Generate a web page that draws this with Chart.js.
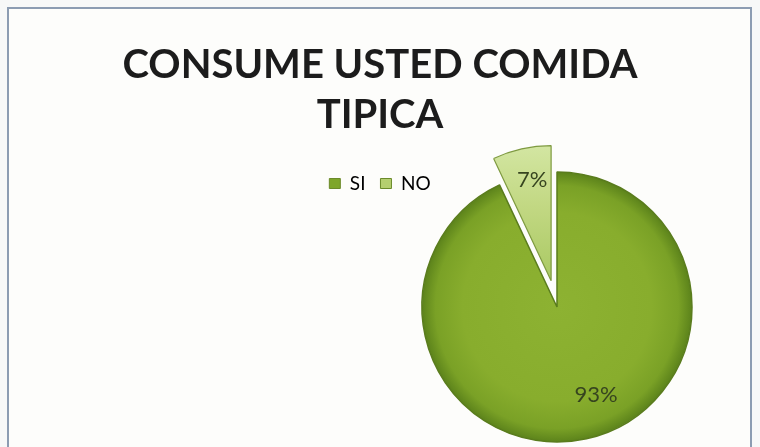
<!DOCTYPE html>
<html>
<head>
<meta charset="utf-8">
<script src="https://cdn.jsdelivr.net/npm/chart.js@4.4.1/dist/chart.umd.min.js"></script>
<style>
  html, body { margin: 0; padding: 0; background: #f7f8f8; }
  #frame { position: absolute; left: 7px; top: 7px; width: 741px; height: 460px;
           border: 2px solid #8c9cb2; background: #fdfdfb; }
  #wrap { position: absolute; left: 0; top: 0; width: 760px; height: 447px; }
</style>
</head>
<body>
<div id="frame"></div>
<div id="wrap"><canvas id="c" width="760" height="447"></canvas></div>
<script>
// ---- data ----
const titleLines = ['CONSUME USTED COMIDA', 'TIPICA'];
const categories = ['SI', 'NO'];
const values = [93, 7];
const valueLabels = ['93%', '7%'];

// ---- style ----
const PIE_CX = 557, PIE_CY = 307, PIE_R = 135;
const explode = [0, 27];
const legendColors = ['#7ea62a', '#b5cf70'];
const labelRadius = [0.71, 0.76];
const labelAngleShift = [-11.5, 2];   // degrees, fine placement of value labels

function sliceFill(c) {
  const chart = c.chart, a = chart.chartArea;
  const i = c.dataIndex;
  if (!a) return legendColors[i];
  const cx = (a.left + a.right) / 2, cy = (a.top + a.bottom) / 2;
  const g2 = chart.ctx;
  if (i === 0) {
    const g = g2.createRadialGradient(cx, cy, 0, cx, cy, PIE_R);
    g.addColorStop(0, '#8db232');
    g.addColorStop(0.7, '#88ad2d');
    g.addColorStop(0.9, '#7aa126');
    g.addColorStop(1, '#5c831b');
    return g;
  }
  const g = g2.createLinearGradient(0, cy - PIE_R - explode[1], 0, cy - explode[1]);
  g.addColorStop(0, '#d3e6a2');
  g.addColorStop(0.45, '#c2d883');
  g.addColorStop(1, '#aac963');
  return g;
}

const piePlacement = {
  id: 'piePlacement',
  afterLayout(chart) {
    const a = chart.chartArea;
    a.left = PIE_CX - PIE_R; a.right = PIE_CX + PIE_R;
    a.top = PIE_CY - PIE_R; a.bottom = PIE_CY + PIE_R;
    a.width = 2 * PIE_R; a.height = 2 * PIE_R;
  },
  afterUpdate(chart) {
    const meta = chart.getDatasetMeta(0);
    meta.data.forEach((arc, i) => {
      const d = explode[i];
      if (!d) return;
      const mid = (arc.startAngle + arc.endAngle) / 2;
      arc.x += Math.cos(mid) * d;
      arc.y += Math.sin(mid) * d;
    });
  }
};

const sliceLabels = {
  id: 'sliceLabels',
  afterDatasetsDraw(chart) {
    const meta = chart.getDatasetMeta(0);
    const ctx = chart.ctx;
    ctx.save();
    ctx.font = '22px Lato';
    ctx.fillStyle = '#36441f';
    ctx.textAlign = 'center';
    ctx.textBaseline = 'middle';
    meta.data.forEach((arc, i) => {
      const mid = (arc.startAngle + arc.endAngle) / 2 + labelAngleShift[i] * Math.PI / 180;
      const r = arc.outerRadius * labelRadius[i];
      ctx.fillText(valueLabels[i], arc.x + Math.cos(mid) * r, arc.y + Math.sin(mid) * r);
    });
    ctx.restore();
  }
};

new Chart(document.getElementById('c'), {
  type: 'pie',
  data: {
    labels: categories,
    datasets: [{
      data: values,
      backgroundColor: sliceFill,
      borderColor: ['#5a7c1d', '#7e9a40'],
      borderWidth: [1.5, 1.2],
      radius: PIE_R
    }]
  },
  options: {
    responsive: false,
    animation: false,
    devicePixelRatio: 1,
    layout: { padding: 0 },
    plugins: {
      title: {
        display: true,
        text: titleLines,
        color: '#1c1c1c',
        font: { family: 'Lato', size: 40, weight: 'bold', lineHeight: 1.25 },
        padding: { top: 40, bottom: 19 }
      },
      legend: {
        display: true,
        position: 'top',
        labels: {
          boxWidth: 11,
          boxHeight: 10,
          padding: 15,
          color: '#333333',
          font: { family: 'Lato', size: 19 },
          generateLabels(chart) {
            return categories.map((c, i) => ({
              text: c, fillStyle: legendColors[i], strokeStyle: '#6b8a2a',
              lineWidth: 1, hidden: false, index: i
            }));
          }
        }
      },
      tooltip: { enabled: false }
    }
  },
  plugins: [piePlacement, sliceLabels]
});
</script>
</body>
</html>
